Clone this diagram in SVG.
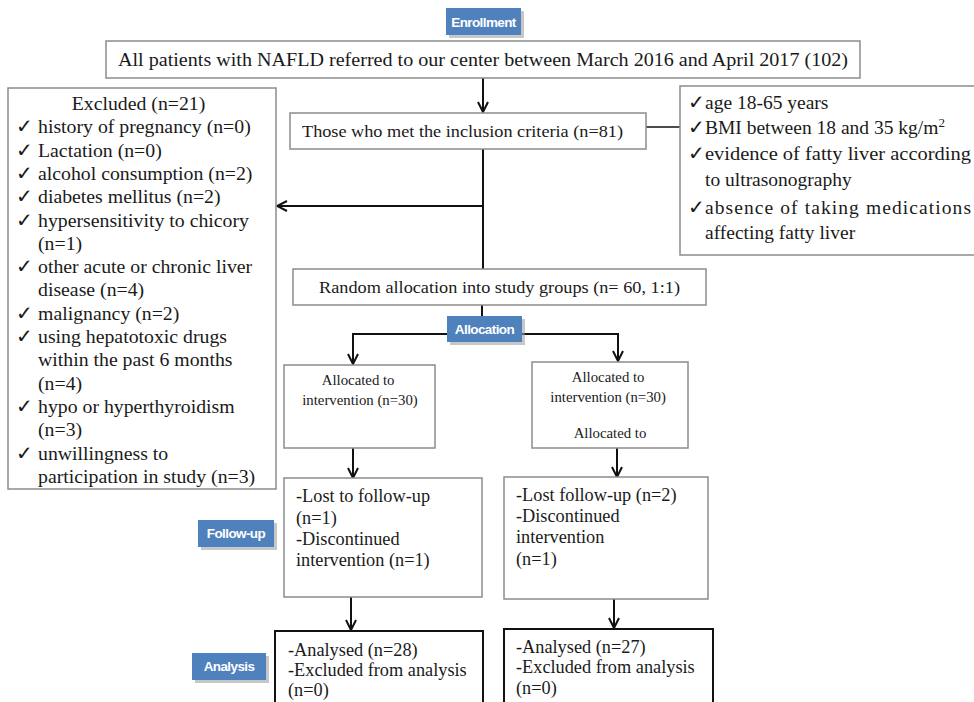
<svg xmlns="http://www.w3.org/2000/svg" width="974" height="702" viewBox="0 0 974 702">
<defs>
<style>
.box{fill:#fff;stroke:#8c8c8c;stroke-width:1.5}
.boxk{fill:#fff;stroke:#111;stroke-width:2}
.t{font-family:"Liberation Serif","DejaVu Serif",serif;fill:#1a1a1a}
.lab{fill:#4f81bd}
.sh{fill:#999;opacity:0.55}
.lt{font-family:"Liberation Sans",Arial,sans-serif;font-weight:bold;fill:#fff;font-size:13.5px;letter-spacing:-0.6px}
.ln{stroke:#111;stroke-width:2;fill:none}
</style>
<marker id="ah" viewBox="0 0 12 12" refX="11" refY="6" markerWidth="12" markerHeight="12" markerUnits="userSpaceOnUse" orient="auto">
<path d="M1,1 L11,6 L1,11" fill="none" stroke="#111" stroke-width="2"/>
</marker>
</defs>
<rect width="974" height="702" fill="#fff"/>

<g id="connectors">
<line class="ln" x1="483" y1="78" x2="483" y2="112" marker-end="url(#ah)"/>
<line class="ln" x1="483" y1="149" x2="483" y2="269"/>
<line class="ln" x1="483" y1="206" x2="277" y2="206" marker-end="url(#ah)"/>
<line x1="646" y1="127" x2="680" y2="127" stroke="#111" stroke-width="1.5"/>
<line class="ln" x1="482" y1="305" x2="482" y2="334"/>
<polyline class="ln" points="353,363 353,334 618,334 618,361"/>
<line class="ln" x1="353" y1="350" x2="353" y2="364" marker-end="url(#ah)"/>
<line class="ln" x1="618" y1="348" x2="618" y2="361" marker-end="url(#ah)"/>
<line class="ln" x1="353" y1="448" x2="353" y2="478" marker-end="url(#ah)"/>
<line class="ln" x1="617" y1="448" x2="617" y2="477" marker-end="url(#ah)"/>
<line class="ln" x1="351" y1="597" x2="351" y2="630" marker-end="url(#ah)"/>
<line class="ln" x1="614" y1="599" x2="614" y2="628" marker-end="url(#ah)"/>
</g>

<g id="enrollment-label">
<rect class="sh" x="449" y="11" width="75" height="27" rx="1"/>
<rect class="lab" x="446" y="8" width="75" height="27"/>
<text class="lt" x="483.5" y="26.5" text-anchor="middle">Enrollment</text>
</g>

<g id="all-patients">
<rect class="box" x="106" y="41" width="754" height="37"/>
<text class="t" x="483" y="66" font-size="19" text-anchor="middle" textLength="730" lengthAdjust="spacingAndGlyphs">All patients with NAFLD referred to our center between March 2016 and April 2017 (102)</text>
</g>

<g id="inclusion">
<rect class="box" x="290" y="113" width="356" height="36"/>
<text class="t" x="302" y="137" font-size="17" textLength="321" lengthAdjust="spacingAndGlyphs">Those who met the inclusion criteria (n=81)</text>
</g>

<g id="criteria">
<rect class="box" x="680" y="86" width="300" height="169"/>
<text class="t" font-size="19.5">
<tspan x="688" y="109">✓</tspan><tspan x="705" y="109">age 18-65 years</tspan>
<tspan x="688" y="134">✓</tspan><tspan x="705" y="134">BMI between 18 and 35 kg/m</tspan><tspan dy="-7" font-size="13">2</tspan>
<tspan x="688" y="160">✓</tspan><tspan x="705" y="160" textLength="266" lengthAdjust="spacingAndGlyphs">evidence of fatty liver according</tspan>
<tspan x="705" y="186">to ultrasonography</tspan>
<tspan x="688" y="214">✓</tspan><tspan x="705" y="214" textLength="266" lengthAdjust="spacing">absence of taking medications</tspan>
<tspan x="705" y="239">affecting fatty liver</tspan>
</text>
</g>

<g id="excluded">
<rect class="box" x="8" y="88" width="268" height="401"/>
<text class="t" font-size="19.8">
<tspan x="141" y="110" text-anchor="middle">Excluded (n=21)</tspan>
<tspan x="16" y="133.3">✓</tspan><tspan x="38" y="133.3">history of pregnancy (n=0)</tspan>
<tspan x="16" y="156.6">✓</tspan><tspan x="38" y="156.6">Lactation (n=0)</tspan>
<tspan x="16" y="179.9">✓</tspan><tspan x="38" y="179.9">alcohol consumption (n=2)</tspan>
<tspan x="16" y="203.2">✓</tspan><tspan x="38" y="203.2">diabetes mellitus (n=2)</tspan>
<tspan x="16" y="226.5">✓</tspan><tspan x="38" y="226.5">hypersensitivity to chicory</tspan>
<tspan x="38" y="249.8">(n=1)</tspan>
<tspan x="16" y="273.1">✓</tspan><tspan x="38" y="273.1">other acute or chronic liver</tspan>
<tspan x="38" y="296.4">disease (n=4)</tspan>
<tspan x="16" y="319.7">✓</tspan><tspan x="38" y="319.7">malignancy (n=2)</tspan>
<tspan x="16" y="343">✓</tspan><tspan x="38" y="343">using hepatotoxic drugs</tspan>
<tspan x="38" y="366.3">within the past 6 months</tspan>
<tspan x="38" y="389.6">(n=4)</tspan>
<tspan x="16" y="412.9">✓</tspan><tspan x="38" y="412.9">hypo or hyperthyroidism</tspan>
<tspan x="38" y="436.2">(n=3)</tspan>
<tspan x="16" y="459.5">✓</tspan><tspan x="38" y="459.5">unwillingness to</tspan>
<tspan x="38" y="482.8">participation in study (n=3)</tspan>
</text>
</g>

<g id="random">
<rect class="box" x="293" y="269" width="413" height="36"/>
<text class="t" x="499.5" y="293" font-size="17" text-anchor="middle" textLength="361" lengthAdjust="spacingAndGlyphs">Random allocation into study groups (n= 60, 1:1)</text>
</g>

<g id="allocation-label">
<rect class="sh" x="450" y="319" width="75" height="26"/>
<rect class="lab" x="447" y="316" width="75" height="26"/>
<text class="lt" x="484.5" y="334" text-anchor="middle">Allocation</text>
</g>

<g id="alloc-left">
<rect class="box" x="284" y="365" width="151" height="83"/>
<text class="t" font-size="14.8" text-anchor="middle">
<tspan x="360" y="385">Allocated to</tspan>
<tspan x="360" y="405">intervention (n=30)</tspan>
</text>
</g>

<g id="alloc-right">
<rect class="box" x="532" y="362" width="156" height="86"/>
<text class="t" font-size="14.8" text-anchor="middle">
<tspan x="610" y="382">Allocated to</tspan>
<tspan x="610" y="402">intervention (n=30)</tspan>
<tspan x="610" y="438">Allocated to</tspan>
</text>
</g>

<g id="followup-label">
<rect class="sh" x="201" y="523" width="76" height="27"/>
<rect class="lab" x="198" y="520" width="76" height="27"/>
<text class="lt" x="236" y="538" text-anchor="middle">Follow-up</text>
</g>

<g id="followup-left">
<rect class="box" x="284" y="478" width="198" height="119"/>
<text class="t" font-size="18.3">
<tspan x="296" y="502">-Lost to follow-up</tspan>
<tspan x="296" y="524">(n=1)</tspan>
<tspan x="296" y="545">-Discontinued</tspan>
<tspan x="296" y="566">intervention (n=1)</tspan>
</text>
</g>

<g id="followup-right">
<rect class="box" x="504" y="477" width="204" height="122"/>
<text class="t" font-size="18.3">
<tspan x="516" y="501">-Lost follow-up (n=2)</tspan>
<tspan x="516" y="522">-Discontinued</tspan>
<tspan x="516" y="543">intervention</tspan>
<tspan x="516" y="565">(n=1)</tspan>
</text>
</g>

<g id="analysis-label">
<rect class="sh" x="195" y="656" width="74" height="27"/>
<rect class="lab" x="192" y="653" width="74" height="27"/>
<text class="lt" x="229" y="671" text-anchor="middle">Analysis</text>
</g>

<g id="analysis-left">
<rect class="boxk" x="275" y="631" width="208" height="80"/>
<text class="t" font-size="18.3">
<tspan x="288" y="656">-Analysed (n=28)</tspan>
<tspan x="288" y="676">-Excluded from analysis</tspan>
<tspan x="288" y="696">(n=0)</tspan>
</text>
</g>

<g id="analysis-right">
<rect class="boxk" x="504" y="629" width="209" height="82"/>
<text class="t" font-size="18.3">
<tspan x="516" y="653">-Analysed (n=27)</tspan>
<tspan x="516" y="673">-Excluded from analysis</tspan>
<tspan x="516" y="694">(n=0)</tspan>
</text>
</g>
</svg>
